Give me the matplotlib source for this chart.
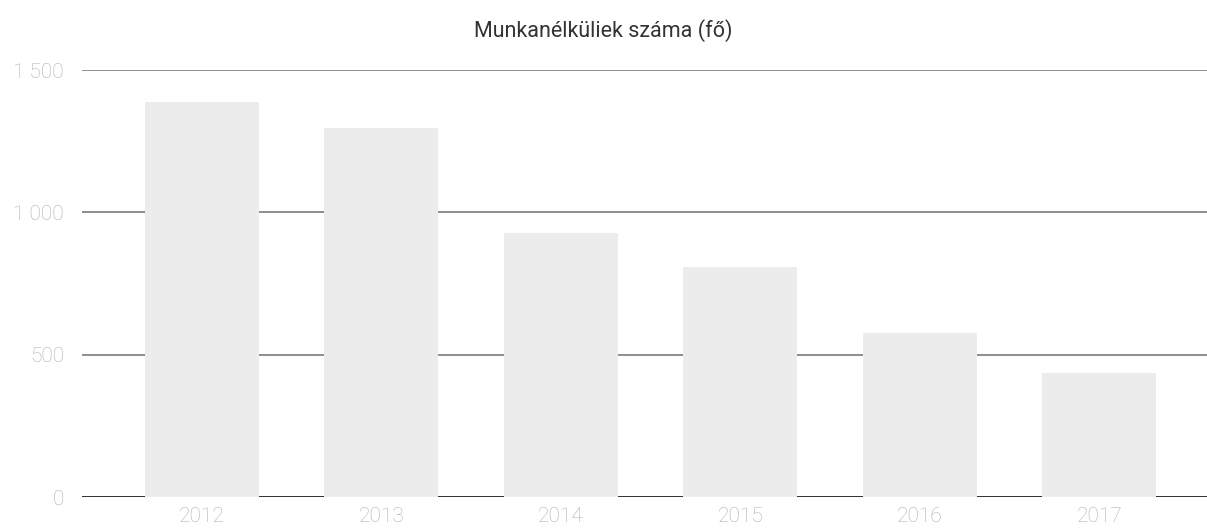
import matplotlib
matplotlib.use("Agg")
import matplotlib.pyplot as plt
import numpy as np

# data
years = ["2012", "2013", "2014", "2015", "2016", "2017"]
unemployed = [1387, 1296, 927, 808, 576, 435]
yticks = [0, 500, 1000, 1500]
ytick_labels = ["0", "500", "1 000", "1 500"]

plt.rcParams["font.family"] = ["Roboto", "DejaVu Sans"]

fig = plt.figure(figsize=(12.07, 5.31), dpi=100)
ax = fig.add_axes([0.068, 0.064, 0.932, 0.804])

x = np.arange(len(years))
ax.bar(x, unemployed, width=0.635, color="#ececec", zorder=3)

ax.set_xlim(-0.666, 5.6)
ax.set_ylim(0, 1500)
ax.set_yticks(yticks)
ax.set_yticklabels(ytick_labels)
ax.set_xticks(x)
ax.set_xticklabels(years)

ax.grid(axis="y", color="#7a7a7a", linewidth=1.2, zorder=1)
ax.axhline(0, color="#2a2a2a", linewidth=2, zorder=2)
for s in ax.spines.values():
    s.set_visible(False)
ax.tick_params(length=0, labelsize=15, labelcolor="#b0b0b0")
for lbl in ax.get_xticklabels() + ax.get_yticklabels():
    lbl.set_fontweight("light")
ax.tick_params(axis="y", pad=13)
ax.tick_params(axis="x", pad=7)

fig.text(0.5, 0.943, "Munkanélküliek száma (fő)", ha="center", va="center",
         fontsize=15.5, color="#333333")

fig.savefig("out.png", dpi=100)
